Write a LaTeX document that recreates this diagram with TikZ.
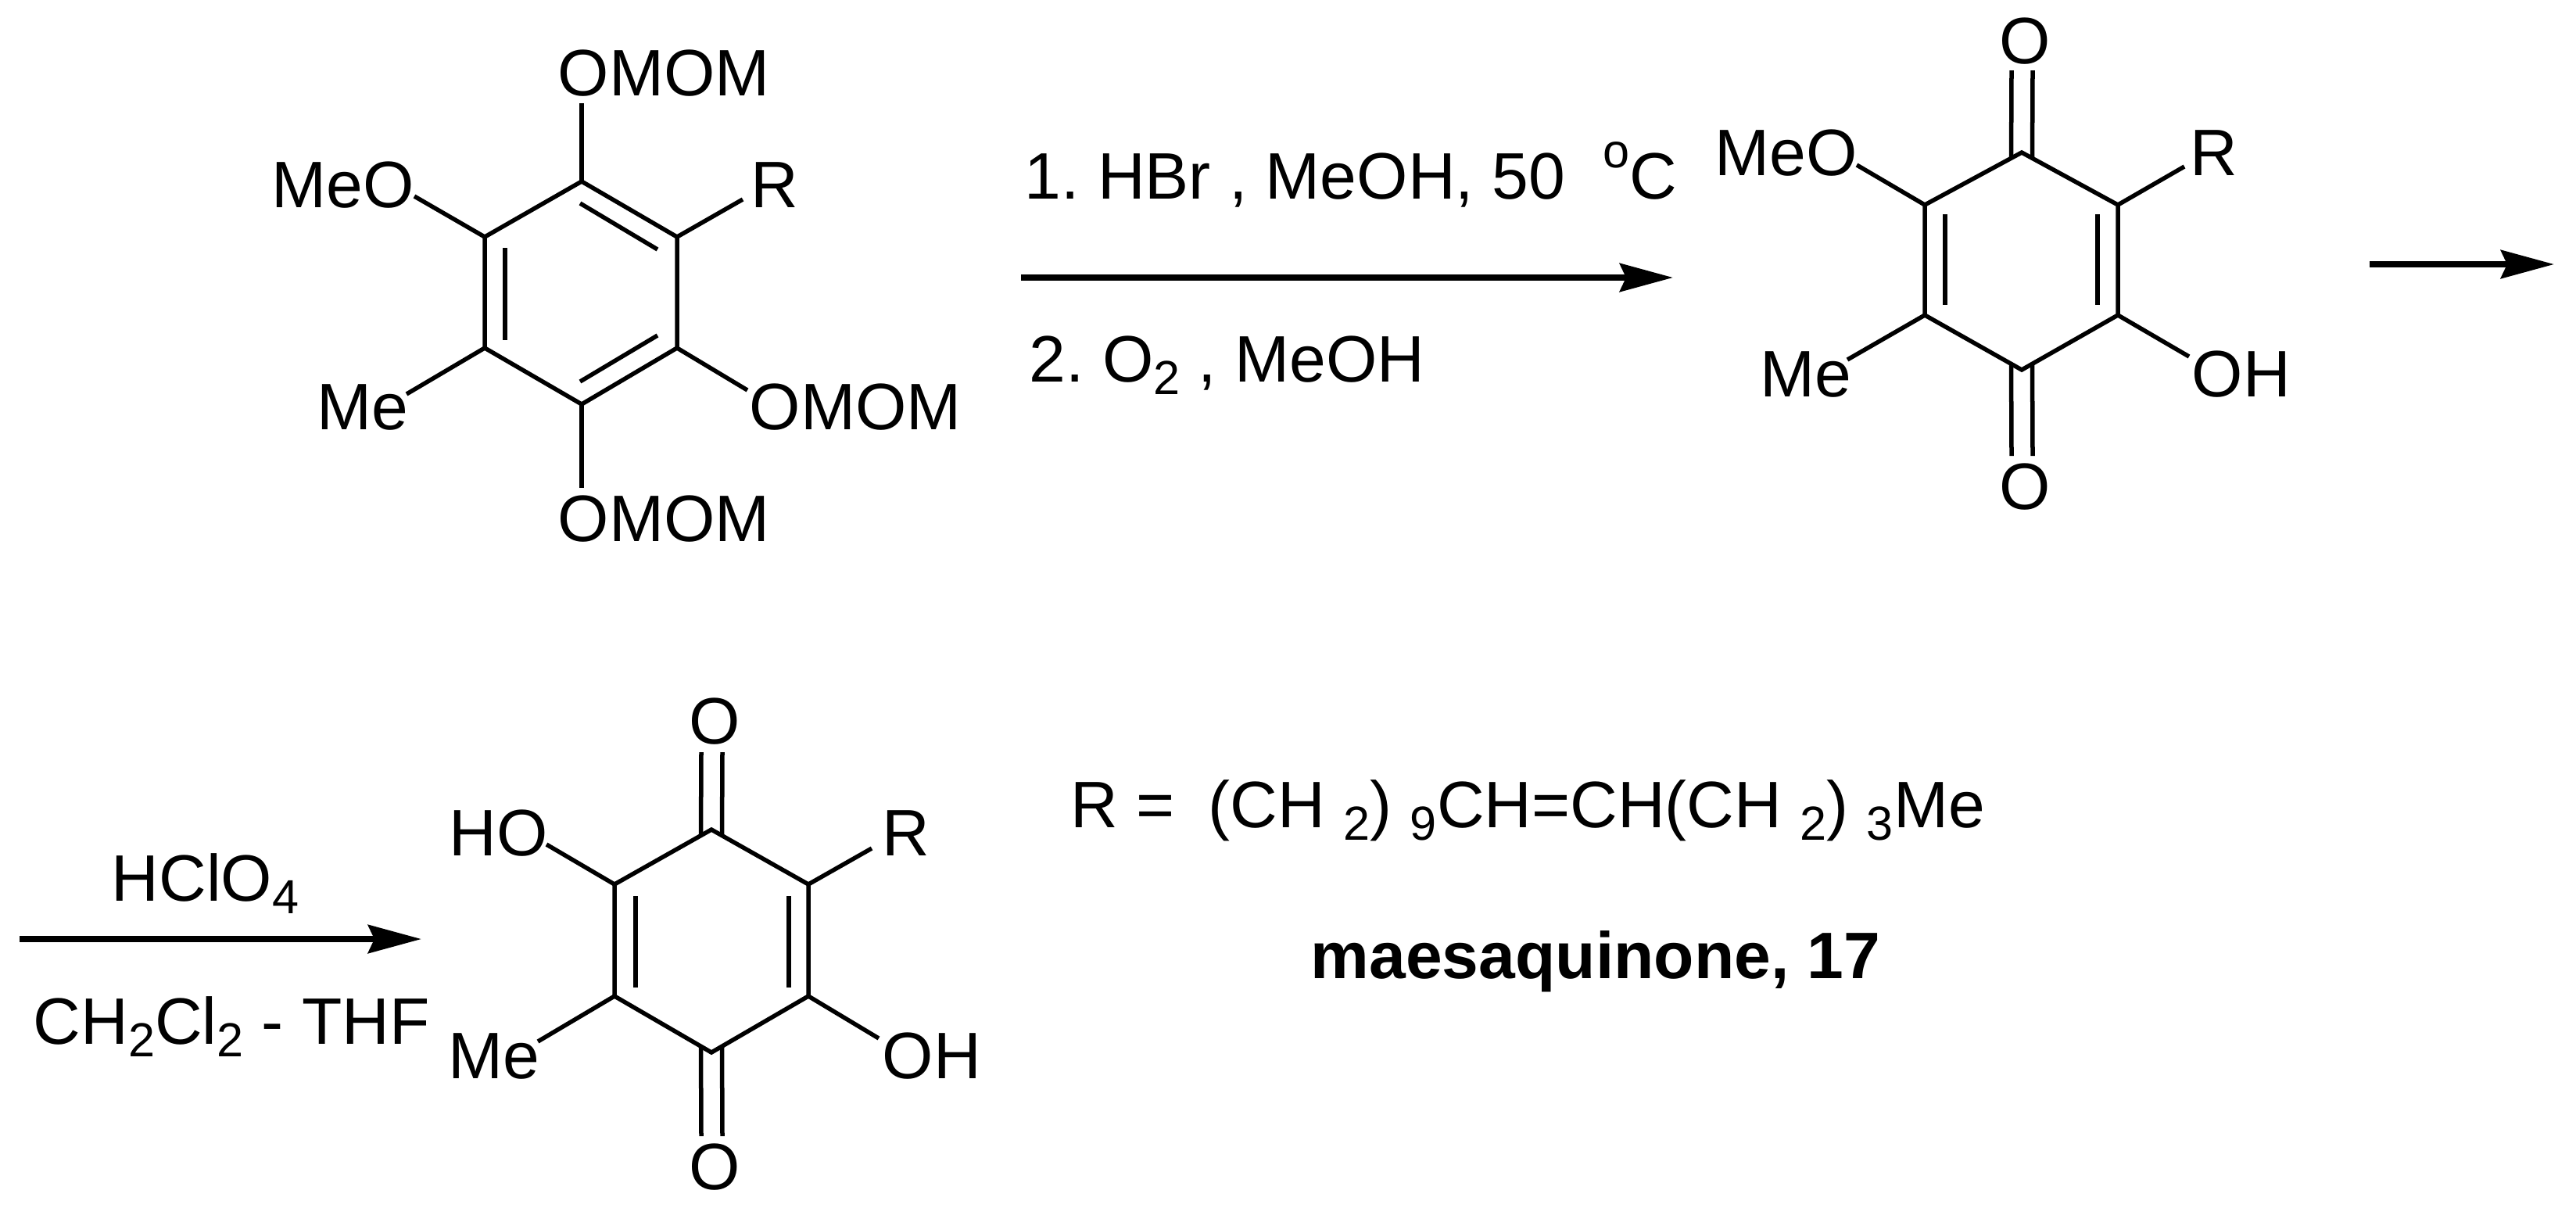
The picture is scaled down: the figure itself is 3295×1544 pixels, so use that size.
\documentclass[tikz,border=0pt]{standalone}
\usepackage{fontspec}
\setmainfont{Liberation Sans}
\usetikzlibrary{arrows.meta}
\newcommand{\chemsub}[1]{\raisebox{-4.8pt}{\fontsize{17.4}{20}\selectfont #1}}
\newcommand{\chemsup}[1]{\raisebox{11.2pt}{\fontsize{17.4}{20}\selectfont #1}}

\begin{document}
\begin{tikzpicture}[x=0.01cm,y=-0.01cm]
\tikzset{atom/.style={inner sep=0pt,anchor=base west,font=\fontsize{23.9}{28}\selectfont\frenchspacing}}
\tikzset{boldtext/.style={atom,font=\fontsize{23.9}{28}\selectfont\bfseries\frenchspacing}}
\tikzset{bond/.style={line width=0.055cm,line join=miter}}
\tikzset{rxnarrow/.style={line width=0.08cm,-{Stealth[length=0.68cm,width=0.36cm,inset=0.08cm]}}}

\useasboundingbox (0,0) rectangle (3295,1544);

% ring of the first compound
\coordinate (a1) at (744,232);
\coordinate (a2) at (866,303);
\coordinate (a3) at (866,445);
\coordinate (a4) at (744,517);
\coordinate (a5) at (620,445);
\coordinate (a6) at (620,303);
\node[atom] (omomt) at (713,122) {OMOM};
\node[atom] (omomb) at (713,692) {OMOM};
\node[atom] (omomr) at (958,549) {OMOM};
\node[atom] (meo1) at (347,265) {MeO};
\node[atom] (r1) at (960,265) {R};
\node[atom] (me1) at (405,549) {Me};
\draw[bond] (a1) -- (a2) -- (a3) -- (a4) -- (a5) -- (a6) -- cycle;
\draw[bond] (742,260) -- (841,319);
\draw[bond] (646,317) -- (646,435);
\draw[bond] (841,429) -- (742,488);
\draw[bond] (a1) -- ([shift={(31,10)}]omomt.base west);
\draw[bond] (a4) -- ([shift={(31,-68)}]omomb.base west);
\draw[bond] (a3) -- ([shift={(-2,-50)}]omomr.base west);
\draw[bond] (a6) -- ([shift={(183,-14)}]meo1.base west);
\draw[bond] (a2) -- ([shift={(-10,-10)}]r1.base west);
\draw[bond] (a5) -- ([shift={(115,-45)}]me1.base west);

% first arrow
\coordinate (s1) at (1306,355);
\coordinate (e1) at (2140,355);
\draw[rxnarrow] (s1) -- (e1);
\node[atom] (cond1) at (1310,254) {1. HBr , MeOH, 50\hspace{0.48cm}\chemsup{o}C};
\node[atom] (cond2) at (1316,488) {2. O\chemsub{2} , MeOH};

% ring of the quinone
\coordinate (b1) at (2586,195);
\coordinate (b2) at (2709,262);
\coordinate (b3) at (2709,403);
\coordinate (b4) at (2586,473);
\coordinate (b5) at (2462,403);
\coordinate (b6) at (2462,262);
\node[atom] (ot2) at (2557,81) {O};
\node[atom] (ob2) at (2557,651) {O};
\node[atom] (meo2) at (2193,224) {MeO};
\node[atom] (r2) at (2801,224) {R};
\node[atom] (me2) at (2251,507) {Me};
\node[atom] (oh2) at (2803,507) {OH};
\draw[bond] (b1) -- (b2) -- (b3) -- (b4) -- (b5) -- (b6) -- cycle;
\draw[bond] (2488,274) -- (2488,390);
\draw[bond] (2683,274) -- (2683,390);
\draw[bond] ([shift={(-13.5,7)}]b1) -- ([shift={(16,9)}]ot2.base west);
\draw[bond] ([shift={(13.5,7)}]b1) -- ([shift={(43,9)}]ot2.base west);
\draw[bond] ([shift={(-13.5,-7)}]b4) -- ([shift={(16,-68)}]ob2.base west);
\draw[bond] ([shift={(13.5,-7)}]b4) -- ([shift={(43,-68)}]ob2.base west);
\draw[bond] (b6) -- ([shift={(182,-13)}]meo2.base west);
\draw[bond] (b2) -- ([shift={(-7,-11)}]r2.base west);
\draw[bond] (b5) -- ([shift={(112,-47)}]me2.base west);
\draw[bond] (b3) -- ([shift={(-3,-51)}]oh2.base west);

% second arrow
\coordinate (s2) at (3031,338);
\coordinate (e2) at (3267,338);
\draw[rxnarrow] (s2) -- (e2);

% third arrow
\coordinate (s3) at (25,1201);
\coordinate (e3) at (539,1201);
\draw[rxnarrow] (s3) -- (e3);
\node[atom] (cond3) at (142,1152) {HClO\chemsub{4}};
\node[atom] (cond4) at (42,1335) {CH\chemsub{2}Cl\chemsub{2} - THF};

% ring of maesaquinone
\coordinate (c1) at (910,1061);
\coordinate (c2) at (1034,1131);
\coordinate (c3) at (1034,1274);
\coordinate (c4) at (910,1346);
\coordinate (c5) at (786,1274);
\coordinate (c6) at (786,1131);
\node[atom] (ot3) at (881,951) {O};
\node[atom] (ob3) at (881,1521) {O};
\node[atom] (ho3) at (574,1094) {HO};
\node[atom] (r3) at (1128,1094) {R};
\node[atom] (me3) at (573,1379) {Me};
\node[atom] (oh3) at (1128,1379) {OH};
\draw[bond] (c1) -- (c2) -- (c3) -- (c4) -- (c5) -- (c6) -- cycle;
\draw[bond] (813,1146) -- (813,1263);
\draw[bond] (1009,1146) -- (1009,1263);
\draw[bond] ([shift={(-13.5,8)}]c1) -- ([shift={(16,11)}]ot3.base west);
\draw[bond] ([shift={(13.5,8)}]c1) -- ([shift={(43,11)}]ot3.base west);
\draw[bond] ([shift={(-13.5,-8)}]c4) -- ([shift={(16,-68)}]ob3.base west);
\draw[bond] ([shift={(13.5,-8)}]c4) -- ([shift={(43,-68)}]ob3.base west);
\draw[bond] (c6) -- ([shift={(125,-14)}]ho3.base west);
\draw[bond] (c2) -- ([shift={(-13,-9)}]r3.base west);
\draw[bond] (c5) -- ([shift={(115,-47)}]me3.base west);
\draw[bond] (c3) -- ([shift={(-4,-51)}]oh3.base west);

\node[atom] (rdef) at (1369,1058) {R =\hspace{0.43cm}(CH \chemsub{2}) \chemsub{9}CH=CH(CH \chemsub{2}) \chemsub{3}Me};
\node[boldtext] (name) at (1676,1251) {maesaquinone, 17};

\end{tikzpicture}
\end{document}
